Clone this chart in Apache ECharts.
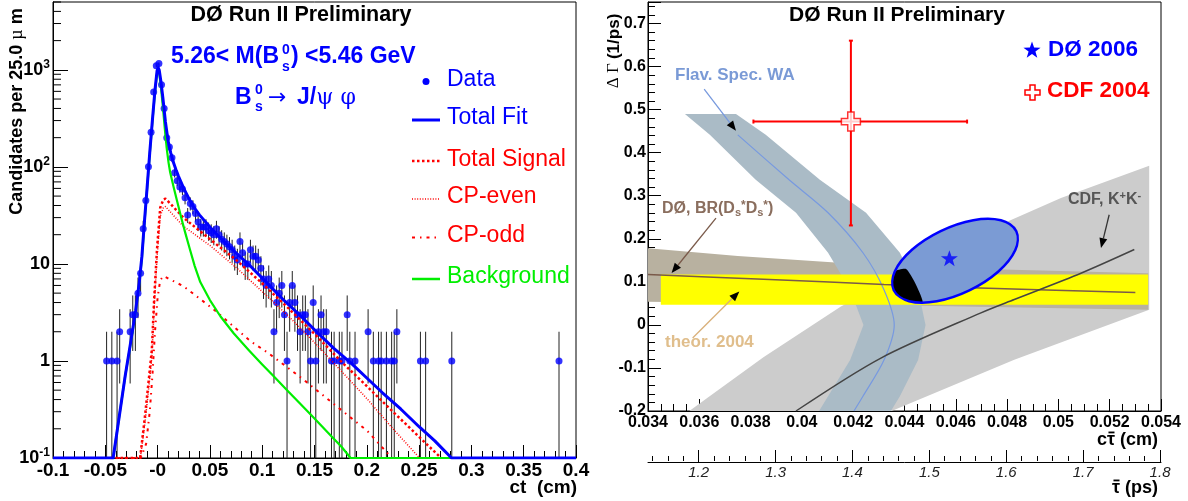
<!DOCTYPE html>
<html><head><meta charset="utf-8">
<script src="https://cdn.jsdelivr.net/npm/echarts@6/dist/echarts.min.js"></script>
<style>html,body{margin:0;padding:0;background:#fff}#c{width:1188px;height:501px}</style>
</head><body><div id="c"></div>
<script>
const FONT = 'Liberation Sans';
// ================= LEFT PANEL DATA =================
const dataCt = [-0.04875,-0.04375,-0.03875,-0.03625,-0.02625,-0.02375,-0.02125,-0.01875,-0.01625,-0.01375,-0.01125,-0.00875,-0.00625,-0.00375,-0.00125,0.00125,0.00375,0.00625,0.00875,0.01125,0.01375,0.01625,0.01875,0.02125,0.02375,0.02625,0.02875,0.03125,0.03375,0.03625,0.03875,0.04125,0.04375,0.04625,0.04875,0.05125,0.05375,0.05625,0.05875,0.06125,0.06375,0.06625,0.06875,0.07125,0.07375,0.07625,0.07875,0.08125,0.08375,0.08625,0.08875,0.09125,0.09375,0.09625,0.09875,0.10125,0.10375,0.10625,0.10875,0.11125,0.11375,0.11625,0.11875,0.12125,0.12375,0.12625,0.12875,0.13125,0.13375,0.13625,0.13875,0.14125,0.14375,0.14625,0.14875,0.15125,0.15375,0.15625,0.15875,0.16125,0.16625,0.16875,0.17375,0.17625,0.18125,0.18375,0.18875,0.20125,0.20625,0.21125,0.21375,0.21875,0.22375,0.22625,0.22875,0.25125,0.25625,0.28125,0.38375];
const dataCounts = [1,1,1,2,2,3,3,5,8,23,45,100,228,590,1100,1160,700,400,200,160,124,87,72,62,59,48,32,42,39,33,27,24,24,24,22,21,20,23,20,18,17,16,15,14,12,11,17,13,10,10,14,12,12,11,9,7,6,7,6,2,4,5,6,3,1,4,6,4,3,2,3,3,2,1,4,1,2,3,2,2,1,1,1,1,3,1,1,2,1,1,1,1,1,1,2,1,1,1,1];
const fitTotal = [[-0.1,0.1],[-0.0425,0.1],[-0.039,0.18],[-0.036,0.3],[-0.031,0.7],[-0.026,1.5],[-0.021,3.3],[-0.0175,6.5],[-0.015,12],[-0.0125,28],[-0.01,62],[-0.0075,140],[-0.005,300],[-0.0025,620],[-0.0005,980],[0.0005,1050],[0.0015,1000],[0.003,780],[0.005,520],[0.0075,290],[0.01,185],[0.0125,140],[0.015,112],[0.0175,94],[0.02,80],[0.025,60],[0.03,47],[0.035,38],[0.04,32],[0.05,24],[0.06,18.5],[0.075,13],[0.09,9.2],[0.105,6.3],[0.12,4.3],[0.137,2.9],[0.15,2.1],[0.1685,1.35],[0.185,0.95],[0.2005,0.66],[0.215,0.47],[0.2324,0.32],[0.25,0.21],[0.265,0.15],[0.281,0.1],[0.4,0.1]];
const fitBackground = [[-0.1,0.1],[-0.0425,0.1],[-0.039,0.18],[-0.036,0.3],[-0.031,0.7],[-0.026,1.45],[-0.021,3.2],[-0.0175,6.3],[-0.015,11.5],[-0.0125,27],[-0.01,60],[-0.0075,135],[-0.005,290],[-0.0025,590],[-0.0005,930],[0.0005,990],[0.0015,930],[0.003,700],[0.005,420],[0.0075,210],[0.0089,150],[0.0105,110],[0.012,88],[0.0153,62],[0.0185,45],[0.0233,28],[0.0264,21],[0.031,14],[0.0355,9.5],[0.0408,6.5],[0.05,4.24],[0.06,2.89],[0.0727,1.93],[0.087,1.3],[0.1,0.92],[0.111,0.695],[0.124,0.497],[0.1366,0.36],[0.15,0.255],[0.165,0.173],[0.176,0.13],[0.1845,0.1],[0.4,0.1]];
const fitSignal = [[-0.045,0.1],[-0.0167,0.1],[-0.0119,0.28],[-0.0087,0.6],[-0.0055,1.3],[-0.0033,4.3],[-0.0006,14],[0.0025,38],[0.0055,46],[0.0075,47],[0.012,42],[0.0246,30],[0.05,18],[0.075,11],[0.1,6.3],[0.125,3.5],[0.15,1.9],[0.175,1.0],[0.2,0.55],[0.225,0.3],[0.25,0.165],[0.271,0.1]];
const fitCPeven = [[-0.045,0.1],[-0.0165,0.1],[-0.0119,0.24],[-0.0087,0.5],[-0.0055,1.1],[-0.0033,3.6],[-0.0006,11.5],[0.0025,31],[0.0055,38],[0.0075,39],[0.012,34.5],[0.0246,24.5],[0.05,15.5],[0.075,9.2],[0.1,5.2],[0.125,2.9],[0.15,1.55],[0.175,0.8],[0.2,0.41],[0.225,0.2],[0.2505,0.1]];
const fitCPodd = [[-0.045,0.1],[-0.016,0.1],[-0.011,0.14],[-0.0075,0.3],[-0.005,0.7],[-0.0025,2.0],[0.0,4.5],[0.0025,6.8],[0.0057,7.5],[0.01,7.1],[0.0246,5.9],[0.0536,3.4],[0.0887,1.6],[0.1047,1.23],[0.1366,0.68],[0.1685,0.36],[0.2005,0.19],[0.224,0.1]];
const leftXTicks = [-0.1, 0.4, 0.05];
const leftYRange = [0.1, 5000];

// ================= RIGHT PANEL DATA =================
const ctRange = [0.034, 0.054];
const dgRange = [-0.2, 0.75];
const C_LIGHT = 0.0299792458; // cm/ps
const tauMajor = [1.2,1.3,1.4,1.5,1.6,1.7,1.8];
const waLeft = [[0.03544,0.49],[0.03641,0.4414],[0.0382,0.337],[0.03977,0.2604],[0.04102,0.1676],[0.04188,0.0818],[0.0424,0],[0.04188,-0.0818],[0.04102,-0.1659],[0.04067,-0.2]];
const waRight = [[0.03743,0.49],[0.03859,0.4414],[0.0407,0.337],[0.0425,0.2604],[0.04382,0.1676],[0.04453,0.0818],[0.04482,0],[0.04453,-0.0818],[0.04382,-0.1659],[0.04347,-0.2]];
const waCenter = [[0.0375,0.4414],[0.0395,0.337],[0.04102,0.2604],[0.04238,0.1676],[0.0432,0.0818],[0.0436,0],[0.0432,-0.0818],[0.04238,-0.1659],[0.04203,-0.2]];
const brTop = [[0.034,0.178],[0.0375,0.16],[0.0413,0.145],[0.0463,0.131],[0.0535,0.12]];
const brBottom = [[0.0535,0.035],[0.0463,0.043],[0.0413,0.048],[0.034,0.054]];
const brCenter = [[0.034,0.117],[0.0385,0.106],[0.0432,0.094],[0.0463,0.087],[0.053,0.0755]];
const kkUpper = [[0.03561,-0.2],[0.0385,-0.075],[0.04152,0.043],[0.0448,0.145],[0.04802,0.2403],[0.0501,0.2945],[0.05354,0.3695]];
const kkLower = [[0.05354,0.035],[0.04828,-0.081],[0.0435,-0.2]];
const kkCenter = [[0.03977,-0.2],[0.04308,-0.077],[0.04698,0.028],[0.04828,0.059],[0.05088,0.12],[0.05296,0.175]];
const theorCt = [0.0345, 0.0535];
const theorDg = [0.047, 0.117];
const d0Contour = [[0.04836,0.2175],[0.04832,0.1739],[0.04765,0.1235],[0.04653,0.0802],[0.04526,0.0549],[0.04418,0.0551],[0.04358,0.0806],[0.04362,0.1242],[0.04429,0.1746],[0.04541,0.218],[0.04668,0.2433],[0.04776,0.243]];
const d0Core = [[0.04406,0.1298],[0.04362,0.1242],[0.04352,0.1008],[0.04358,0.0806],[0.04381,0.0651],[0.04418,0.0551],[0.0445,0.0523],[0.04471,0.0546],[0.04441,0.098]];
const d0Point = [0.04575, 0.155];
const cdfPoint = [0.04191, 0.4723];
const cdfCtErr = [0.03811, 0.04644];
const cdfDgErr = [0.231, 0.6602];
const arrowWA = [[0.03619,0.5474],[0.03743,0.4507]];
const arrowBR = [[0.03665,0.2482],[0.03492,0.1205]];
const arrowTheor = [[0.03574,-0.0303],[0.03756,0.0778]];
const arrowKK = [[0.05198,0.2558],[0.05166,0.1785]];

// ================= helpers =================
const tauMin = ctRange[0] / C_LIGHT, tauMax = ctRange[1] / C_LIGHT;
const tauMinor = [];
for (let k = 57; k <= 90; k++) { const v = +(k * 0.02).toFixed(2); if (v > tauMin && Math.abs(v*10 - Math.round(v*10)) > 1e-6) tauMinor.push(v); }
const logMinor = [];
for (let e = -1; e <= 3; e++) for (let m = 2; m <= 9; m++) { const v = m * Math.pow(10, e); if (v <= leftYRange[1]) logMinor.push(+v.toPrecision(3)); }
const fmt = (v, d) => String(+v.toFixed(d));
const STAR = [[0,-10],[2.35,-3.24],[9.51,-3.09],[3.8,1.24],[5.88,8.09],[0,4],[-5.88,8.09],[-3.8,1.24],[-9.51,-3.09],[-2.35,-3.24]];
const starPath = 'path://M' + STAR.map(p => p[0] + ',' + p[1]).join(' L') + ' Z';
const crossPath = 'path://M3,0H6V3H9V6H6V9H3V6H0V3H3Z';

const series = [];
// ---- left: error bars
series.push({
  type: 'custom', xAxisIndex: 0, yAxisIndex: 0, z: 2, silent: true,
  data: dataCt.map((c, i) => [c, dataCounts[i]]),
  renderItem(params, api) {
    const x = api.value(0), n = api.value(1), e = Math.sqrt(n);
    const p1 = api.coord([x, Math.max(n - e, leftYRange[0])]), p2 = api.coord([x, n + e]);
    return {type: 'line', shape: {x1: p1[0], y1: p1[1], x2: p2[0], y2: p2[1]}, style: {stroke: '#222', lineWidth: 1}};
  }
});
series.push({type: 'scatter', xAxisIndex: 0, yAxisIndex: 0, z: 3, silent: true, symbol: 'circle', symbolSize: 7,
  itemStyle: {color: '#0000ff'}, data: dataCt.map((c, i) => [c, dataCounts[i]])});
// log minor ticks
series.push({
  type: 'custom', xAxisIndex: 0, yAxisIndex: 0, z: 10, silent: true,
  data: logMinor.map(v => [leftXTicks[0], v]),
  renderItem(params, api) {
    const p = api.coord([api.value(0), api.value(1)]);
    return {type: 'line', shape: {x1: p[0], y1: p[1], x2: p[0] + 8, y2: p[1]}, style: {stroke: '#000', lineWidth: 1}};
  }
});
function curve(data, color, width, dash, z) {
  return {type: 'line', xAxisIndex: 0, yAxisIndex: 0, data, symbol: 'none', smooth: false, z, silent: true,
    lineStyle: {color, width, type: dash || 'solid', cap: 'butt', join: 'round'}};
}
series.push(curve(fitCPodd, '#ff0000', 2, [3, 5, 1.5, 5], 4));
series.push(curve(fitCPeven, '#ff0000', 1.5, [1, 1.6], 4));
series.push(curve(fitSignal, '#ff0000', 2.5, [2.5, 2.5], 4));
series.push(curve(fitBackground, '#00ee00', 2.2, null, 5));
series.push(curve(fitTotal, '#0000ff', 3, null, 6));

// ---- right panel
function poly(pts, style, z, smooth) {
  return {type: 'custom', xAxisIndex: 1, yAxisIndex: 1, z, silent: true, data: [pts[0]],
    renderItem(params, api) {
      return {type: 'polygon', shape: {points: pts.map(p => api.coord(p)), smooth: smooth || 0}, style};
    }};
}
function rline(pts, color, width, z) {
  return {type: 'line', xAxisIndex: 1, yAxisIndex: 1, data: pts, symbol: 'none', smooth: 0.3, z, silent: true,
    lineStyle: {color, width}};
}
function arrow(seg, color, z) {
  return {type: 'custom', xAxisIndex: 1, yAxisIndex: 1, z, silent: true, data: [seg[0]],
    renderItem(params, api) {
      const a = api.coord(seg[0]), b = api.coord(seg[1]);
      const dx = b[0] - a[0], dy = b[1] - a[1], L = Math.hypot(dx, dy), ux = dx / L, uy = dy / L;
      const hl = 10, hw = 4, bx = b[0] - ux * hl, by = b[1] - uy * hl;
      return {type: 'group', children: [
        {type: 'line', shape: {x1: a[0], y1: a[1], x2: bx, y2: by}, style: {stroke: color, lineWidth: 1.3}},
        {type: 'polygon', shape: {points: [[b[0], b[1]], [bx - uy * hw, by + ux * hw], [bx + uy * hw, by - ux * hw]]}, style: {fill: '#000'}}
      ]};
    }};
}
series.push(poly(kkUpper.concat(kkLower), {fill: '#cccccc'}, 1));
series.push(poly(brTop.concat(brBottom), {fill: '#b8b1a0'}, 2));
series.push(poly(waLeft.concat(waRight.slice().reverse()), {fill: '#aabbc6'}, 3));
series.push(poly([[theorCt[0], theorDg[0]], [theorCt[1], theorDg[0]], [theorCt[1], theorDg[1]], [theorCt[0], theorDg[1]]], {fill: '#ffff00'}, 4));
series.push(rline(waCenter, '#7799e0', 1.2, 5));
series.push(rline(brCenter, '#7a5a4a', 1.5, 5));
series.push(rline(kkCenter, '#444444', 1.5, 5));
series.push(poly(d0Contour, {fill: '#7b9bd4'}, 6, 0.35));
series.push(poly(d0Core, {fill: '#000000'}, 7, 0.2));
series.push(poly(d0Contour, {fill: 'none', stroke: '#0000ff', lineWidth: 2.5}, 8, 0.35));
series.push({type: 'scatter', xAxisIndex: 1, yAxisIndex: 1, z: 9, silent: true, symbol: starPath, symbolSize: [17, 16],
  itemStyle: {color: '#0000ff'}, data: [d0Point]});
series.push({type: 'custom', xAxisIndex: 1, yAxisIndex: 1, z: 9, silent: true, data: [cdfPoint],
  renderItem(params, api) {
    const l = api.coord([cdfCtErr[0], cdfPoint[1]]), r = api.coord([cdfCtErr[1], cdfPoint[1]]);
    const t = api.coord([cdfPoint[0], cdfDgErr[1]]), b = api.coord([cdfPoint[0], cdfDgErr[0]]);
    const st = {stroke: '#ff0000', lineWidth: 2};
    return {type: 'group', children: [
      {type: 'line', shape: {x1: l[0], y1: l[1], x2: r[0], y2: r[1]}, style: st},
      {type: 'line', shape: {x1: t[0], y1: t[1], x2: b[0], y2: b[1]}, style: st},
      {type: 'line', shape: {x1: l[0], y1: l[1] - 2, x2: l[0], y2: l[1] + 2}, style: st},
      {type: 'line', shape: {x1: r[0], y1: r[1] - 2, x2: r[0], y2: r[1] + 2}, style: st},
      {type: 'line', shape: {x1: t[0] - 2, y1: t[1], x2: t[0] + 2, y2: t[1]}, style: st},
      {type: 'line', shape: {x1: b[0] - 2, y1: b[1], x2: b[0] + 2, y2: b[1]}, style: st}
    ]};
  }});
series.push({type: 'scatter', xAxisIndex: 1, yAxisIndex: 1, z: 10, silent: true, symbol: crossPath, symbolSize: 19,
  itemStyle: {color: '#ffffff', borderColor: '#ff0000', borderWidth: 1.5}, data: [cdfPoint]});
series.push(arrow(arrowWA, '#7799dd', 11));
series.push(arrow(arrowBR, '#7a5a4a', 11));
series.push(arrow(arrowTheor, '#d9b07a', 11));
series.push(arrow(arrowKK, '#333333', 11));

// ================= axes =================
const lbl = (size, extra) => Object.assign({fontFamily: FONT, fontWeight: 'bold', fontSize: size, color: '#000'}, extra || {});
const xAxis = [
  {gridIndex: 0, type: 'value', min: leftXTicks[0], max: leftXTicks[1], interval: leftXTicks[2],
   axisLine: {show: true, onZero: false, lineStyle: {color: '#000', width: 1}},
   axisTick: {show: true, inside: true, length: 13, lineStyle: {color: '#000'}},
   minorTick: {show: true, splitNumber: 5, length: 7, lineStyle: {color: '#000'}},
   splitLine: {show: false},
   axisLabel: lbl(19, {margin: 3, interval: 0, showMinLabel: true, showMaxLabel: true,
     formatter: v => { const s = fmt(v, 2); return s === '0' ? '-0' : s; }})},
  {gridIndex: 1, type: 'value', min: ctRange[0], max: ctRange[1], interval: 0.002,
   axisLine: {show: true, onZero: false, lineStyle: {color: '#000', width: 1}},
   axisTick: {show: true, inside: true, length: 12, lineStyle: {color: '#000'}},
   minorTick: {show: true, splitNumber: 4, length: 7, lineStyle: {color: '#000'}},
   splitLine: {show: false},
   axisLabel: lbl(16, {margin: 4, interval: 0, showMinLabel: true, showMaxLabel: true, formatter: v => fmt(v, 3)})},
  {gridIndex: 2, type: 'value', position: 'bottom', min: tauMin, max: tauMax,
   axisLine: {show: true, onZero: false, lineStyle: {color: '#000', width: 1}},
   axisTick: {show: true, inside: true, length: 12, customValues: tauMajor, lineStyle: {color: '#000'}},
   splitLine: {show: false},
   axisLabel: {customValues: tauMajor, fontFamily: FONT, fontStyle: 'italic', fontSize: 15, color: '#222', margin: 3, formatter: v => fmt(v, 1)}},
  {gridIndex: 2, type: 'value', position: 'top', min: tauMin, max: tauMax,
   axisLine: {show: false, onZero: false},
   axisTick: {show: true, inside: false, length: 5, customValues: tauMinor, lineStyle: {color: '#000'}},
   splitLine: {show: false}, axisLabel: {show: false}}
];
const yAxis = [
  {gridIndex: 0, type: 'log', logBase: 10, min: leftYRange[0], max: leftYRange[1],
   axisLine: {show: true, onZero: false, lineStyle: {color: '#000'}},
   axisTick: {show: true, inside: true, length: 15, lineStyle: {color: '#000'}},
   splitLine: {show: false}, minorTick: {show: false},
   axisLabel: {margin: 3, showMaxLabel: false,
     formatter: v => {
       const l = Math.log10(v), e = Math.round(l);
       if (Math.abs(l - e) > 1e-6) return '';
       if (e === 0) return '{b|1}';
       if (e === 1) return '{b|10}';
       return '{b|10}{s|' + e + '}';
     },
     rich: {b: lbl(18), s: lbl(12, {padding: [0, 0, 10, 0]})}}},
  {gridIndex: 1, type: 'value', min: dgRange[0], max: dgRange[1], interval: 0.1,
   axisLine: {show: true, onZero: false, lineStyle: {color: '#000'}},
   axisTick: {show: true, inside: true, length: 13, lineStyle: {color: '#000'}},
   minorTick: {show: true, splitNumber: 5, length: 7, lineStyle: {color: '#000'}},
   splitLine: {show: false},
   axisLabel: lbl(16, {margin: 2, showMaxLabel: false, formatter: v => (Math.abs(v - dgRange[1]) < 1e-9 ? '' : fmt(v, 1))})},
  {gridIndex: 2, type: 'value', show: false, min: 0, max: 1}
];

// ================= text / legends =================
function txt(x, y, text, o) {
  o = o || {};
  return {type: 'text', x, y, rotation: o.rot || 0, silent: true, z: 100,
    style: {text, fill: o.color || '#000', fontFamily: o.family || FONT, fontWeight: o.weight || 'bold',
      fontSize: o.size || 18, fontStyle: o.style || 'normal', align: o.align || 'left', verticalAlign: 'middle', rich: o.rich}};
}
const measureCtx = document.createElement('canvas').getContext('2d');
function tw(s, size, weight) { measureCtx.font = (weight || 'bold') + ' ' + size + 'px "' + FONT + '"'; return measureCtx.measureText(s).width; }
// text with a bar over tau: pre + 'τ' + post, right aligned at xr
function tauBarText(xr, y, pre, post, size) {
  const full = pre + 'τ' + post;
  const x0 = xr - tw(full, size);
  const xa = x0 + tw(pre, size), xb = xa + tw('τ', size);
  return [txt(xr, y, full, {size, align: 'right'}),
    {type: 'line', silent: true, z: 100, shape: {x1: xa + 1.5, y1: y - size * 0.42, x2: xb - 0.5, y2: y - size * 0.42}, style: {stroke: '#000', lineWidth: 1.8}}];
}
const rs = (size, extra) => Object.assign({fontFamily: FONT, fontWeight: 'bold', fontSize: size}, extra || {});
const graphic = [];
// left titles
graphic.push(txt(301, 15, 'DØ Run II Preliminary', {size: 21.5, align: 'center'}));
graphic.push(txt(171, 57, '5.26< M(B', {size: 23, color: '#0000ff'}));
graphic.push(txt(282, 50, '0', {size: 14, color: '#0000ff'}));
graphic.push(txt(282, 67, 's', {size: 14, color: '#0000ff'}));
graphic.push(txt(291, 57, ') <5.46 GeV', {size: 23, color: '#0000ff'}));
graphic.push(txt(235, 98, 'B', {size: 23, color: '#0000ff'}));
graphic.push(txt(255, 90, '0', {size: 14, color: '#0000ff'}));
graphic.push(txt(255, 107, 's', {size: 14, color: '#0000ff'}));
graphic.push(txt(268, 98, '→', {size: 22, color: '#0000ff', family: 'DejaVu Sans', weight: 'normal'}));
graphic.push(txt(297, 98, '{b|J/}{g|ψ φ}', {size: 23, color: '#0000ff',
  rich: {b: rs(23, {fill: '#0000ff', color: '#0000ff'}), g: {fontFamily: 'DejaVu Serif', fontSize: 22, fontWeight: 'normal', fill: '#0000ff', color: '#0000ff'}}}));
// left legend
const legY = [80, 118, 159.5, 197, 235.5, 277];
const legNames = ['Data', 'Total Fit', 'Total Signal', 'CP-even', 'CP-odd', 'Background'];
const legColors = ['#0000ff', '#0000ff', '#ff0000', '#ff0000', '#ff0000', '#00ee00'];
legNames.forEach((n, i) => graphic.push(txt(447, legY[i], n, {size: 23, weight: 'normal', color: legColors[i]})));
graphic.push({type: 'circle', shape: {cx: 426, cy: 81.5, r: 3.5}, style: {fill: '#0000ff'}, silent: true, z: 100});
const legLine = (y, color, w, dash) => ({type: 'line', shape: {x1: 412, y1: y, x2: 440, y2: y}, silent: true, z: 100,
  style: {stroke: color, lineWidth: w, lineDash: dash || null}});
graphic.push(legLine(120, '#0000ff', 3));
graphic.push(legLine(161, '#ff0000', 2.5, [2.5, 2.5]));
graphic.push(legLine(199, '#ff0000', 1.5, [1, 1.6]));
graphic.push(legLine(237.5, '#ff0000', 2, [3, 5, 1.5, 5]));
graphic.push(legLine(279, '#00ee00', 2.5));
// left axis titles
graphic.push(txt(17, 111.5, '{b|Candidates per 25.0 }{g|µ}{b| m}', {rot: Math.PI / 2, align: 'center', size: 18,
  rich: {b: rs(18, {fill: '#000'}), g: {fontFamily: 'Liberation Serif', fontSize: 18, fill: '#000'}}}));
graphic.push(txt(577, 488, 'ct  (cm)', {size: 19, align: 'right'}));
// right titles
graphic.push(txt(897, 15, 'DØ Run II Preliminary', {size: 21, align: 'center'}));
const starPts = STAR.map(p => [1032 + p[0] * 0.9, 50.5 + p[1] * 0.9]);
graphic.push({type: 'polygon', shape: {points: starPts}, style: {fill: '#0000ff'}, silent: true, z: 100});
graphic.push(txt(1048, 49.5, 'DØ 2006', {size: 22.5, color: '#0000ff'}));
const cx0 = 1025, cy0 = 85, cs = 15 / 9;
graphic.push({type: 'polygon', silent: true, z: 100,
  shape: {points: [[3,0],[6,0],[6,3],[9,3],[9,6],[6,6],[6,9],[3,9],[3,6],[0,6],[0,3],[3,3]].map(p => [cx0 + p[0] * cs, cy0 + p[1] * cs])},
  style: {fill: '#fff', stroke: '#ff0000', lineWidth: 1.5}});
graphic.push(txt(1047, 91, 'CDF 2004', {size: 22.5, color: '#ff0000'}));
graphic.push(txt(675, 75, 'Flav. Spec. WA', {size: 17, color: '#7a9ad6'}));
graphic.push(txt(662, 209, '{t|DØ, BR(D}{sb|s}{sp|*}{t|D}{sb|s}{sp|*}{t|)}', {size: 16, color: '#8a6e5e',
  rich: {t: rs(16, {fill: '#8a6e5e'}), sb: rs(11, {fill: '#8a6e5e', padding: [8, 0, 0, 0]}), sp: rs(12, {fill: '#8a6e5e', padding: [0, 0, 6, 0]})}}));
graphic.push(txt(665, 342, 'theor. 2004', {size: 17, color: '#e0be8c'}));
graphic.push(txt(1068, 200, '{t|CDF, K}{sp|+}{t|K}{sp|-}', {size: 16, color: '#555',
  rich: {t: rs(16, {fill: '#555'}), sp: rs(11, {fill: '#555', padding: [0, 0, 8, 0]})}}));
graphic.push(txt(614, 51, '{g|Δ Γ }{b|(1/ps)}', {rot: Math.PI / 2, align: 'center', size: 17,
  rich: {b: rs(17, {fill: '#000'}), g: {fontFamily: 'Liberation Serif', fontSize: 17, fill: '#000'}}}));
graphic.push(...tauBarText(1158, 440, 'c', ' (cm)', 18));
graphic.push(...tauBarText(1158, 488, '', ' (ps)', 18));

const chart = echarts.init(document.getElementById('c'), null, {renderer: 'canvas'});
chart.setOption({
  animation: false,
  backgroundColor: '#ffffff',
  textStyle: {fontFamily: FONT},
  grid: [
    {left: 53, top: 2, width: 523, height: 456, show: true, borderColor: '#000', borderWidth: 1, containLabel: false, outerBoundsMode: 'none'},
    {left: 648, top: 2, width: 513, height: 409, show: true, borderColor: '#000', borderWidth: 1, containLabel: false, outerBoundsMode: 'none'},
    {left: 648, top: 461, width: 513, height: 1, show: false, containLabel: false, outerBoundsMode: 'none'}
  ],
  xAxis, yAxis, series, graphic
});
</script></body></html>
